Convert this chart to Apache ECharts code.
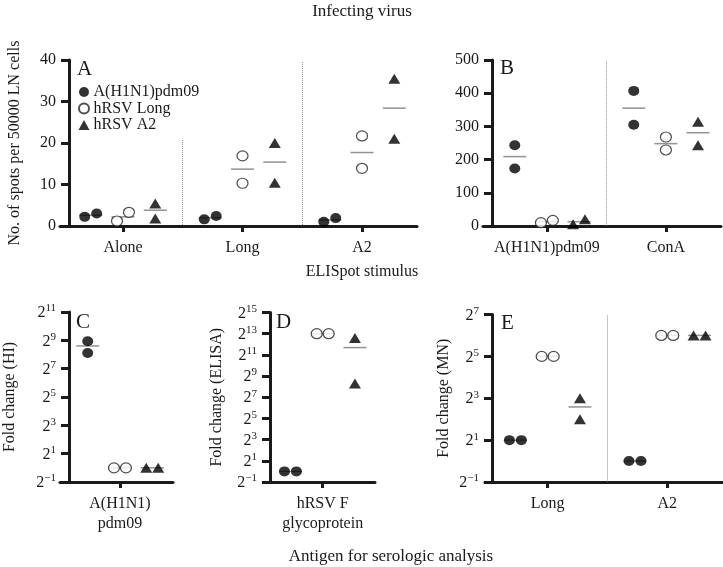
<!DOCTYPE html>
<html><head><meta charset="utf-8">
<script src="https://cdn.jsdelivr.net/npm/echarts@6/dist/echarts.min.js"></script>
<style>html,body{margin:0;padding:0;background:#fff}#c{width:723px;height:567px}</style>
</head><body><div id="c"></div>
<script>
// ---------- DATA ----------
// Panel A: ELISpot, spots per 50000 LN cells
const catA = ['Alone', 'Long', 'A2'];
const h1n1A = [[2.2, 3.0], [1.6, 2.4], [1.0, 1.9]];
const longA = [[1.2, 3.3], [16.9, 10.3], [21.7, 13.9]];
const a2A = [[5.4, 1.8], [20.0, 10.4], [35.5, 21.0]];
const meanH1n1A = [2.6, 2.0, 1.45];
const meanLongA = [2.2, 13.7, 17.7];
const meanA2A = [3.8, 15.4, 28.4];
const ticksA = [0, 10, 20, 30, 40];
// Panel B
const catB = ['A(H1N1)pdm09', 'ConA'];
const h1n1B = [[243, 173], [407, 305]];
const longB = [[10, 17], [268, 229]];
const a2B = [[5, 20], [314, 243]];
const meanH1n1B = [209, 355];
const meanLongB = [13, 248];
const meanA2B = [13, 281];
const ticksB = [0, 100, 200, 300, 400, 500];
// Panel C: fold change (HI)
const catC = ['A(H1N1)\npdm09'];
const h1n1C = [[490, 275]];
const longC = [[1, 1]];
const a2C = [[1, 1]];
const meanH1n1C = [390];
const meanLongC = [1];
const meanA2C = [1];
const ticksC = [0.5, 2, 8, 32, 128, 512, 2048];
// Panel D: fold change (ELISA)
const catD = ['hRSV F\nglycoprotein'];
const h1n1D = [[1, 1]];
const longD = [[8192, 8192]];
const a2D = [[6200, 315]];
const meanH1n1D = [1];
const meanLongD = [8192];
const meanA2D = [3300];
const ticksD = [0.5, 2, 8, 32, 128, 512, 2048, 8192, 32768];
// Panel E: fold change (MN)
const catE = ['Long', 'A2'];
const h1n1E = [[2, 2], [1, 1]];
const longE = [[32, 32], [64, 64]];
const a2E = [[8, 4], [64, 64]];
const meanH1n1E = [2, 1];
const meanLongE = [32, 64];
const meanA2E = [6, 64];
const ticksE = [0.5, 2, 8, 32, 128];

const seriesNames = ['A(H1N1)pdm09', 'hRSV Long', 'hRSV A2'];

// ---------- LAYOUT ----------
const FONT = '"Liberation Serif", "DejaVu Serif", serif';
const INK = '#1a1a1a';
const panels = [
  {cats: catA, groups: [h1n1A, longA, a2A], means: [meanH1n1A, meanLongA, meanA2A], ticks: ticksA, log: false,
   grid: {left: 60, top: 60, width: 357, height: 166}, xr: [-0.527, 2.46], yOff: -9,
   name: 'No. of spots per 50000 LN cells', nameGap: 46, seps: [[0.5, 20.7], [1.5, 39.5]]},
  {cats: catB, groups: [h1n1B, longB, a2B], means: [meanH1n1B, meanLongB, meanA2B], ticks: ticksB, log: false,
   grid: {left: 483, top: 60, width: 238, height: 166}, xr: [-0.537, 1.463], yOff: -9,
   name: '', nameGap: 40, seps: [[0.5, 496]]},
  {cats: catC, groups: [h1n1C, longC, a2C], means: [meanH1n1C, meanLongC, meanA2C], ticks: ticksC, log: true,
   grid: {left: 60, top: 312, width: 113, height: 170}, xr: [-0.502, 0.444], yOff: -9,
   name: 'Fold change (HI)', nameGap: 51, seps: []},
  {cats: catD, groups: [h1n1D, longD, a2D], means: [meanH1n1D, meanLongD, meanA2D], ticks: ticksD, log: true,
   grid: {left: 268, top: 312.5, width: 107, height: 169.5}, xr: [-0.458, 0.438], yOff: -2,
   name: 'Fold change (ELISA)', nameGap: 45, seps: []},
  {cats: catE, groups: [h1n1E, longE, a2E], means: [meanH1n1E, meanLongE, meanA2E], ticks: ticksE, log: true,
   grid: {left: 485, top: 314.5, width: 238, height: 167.5}, xr: [-0.524, 1.466], yOff: -7,
   name: 'Fold change (MN)', nameGap: 40, seps: [[0.5, 124]]}
];
const groupOffsets = [-0.27, 0, 0.27];
const JIT = 0.05;

function supLabel(v) {
  const e = Math.round(Math.log2(v));
  return '{b|2}{s|' + (e < 0 ? '\u2212' + (-e) : e) + '}';
}

function points(vals, off, p) {
  const yMin = p.ticks[0], yMax = p.ticks[p.ticks.length - 1];
  const out = [];
  vals.forEach((pair, i) => {
    const d = p.log
      ? Math.abs(Math.log2(pair[0]) - Math.log2(pair[1])) / (Math.log2(yMax) - Math.log2(yMin))
      : Math.abs(pair[0] - pair[1]) / (yMax - yMin);
    const j = d < 0.06 ? JIT : 0;
    out.push([i + off - j, pair[0]], [i + off + j, pair[1]]);
  });
  return out;
}

const grids = [], xAxes = [], yAxes = [], series = [];
panels.forEach((p, k) => {
  grids.push(p.grid);
  const idx = p.cats.map((c, i) => i);
  xAxes.push({
    gridIndex: k, type: 'value', min: p.xr[0], max: p.xr[1],
    axisLine: {show: true, onZero: false, lineStyle: {color: INK, width: 3}},
    axisTick: {show: true, customValues: idx, length: 6, lineStyle: {color: INK, width: 3}},
    axisLabel: {customValues: idx, formatter: v => p.cats[Math.round(v)], fontSize: 16, lineHeight: 20,
                color: INK, fontFamily: FONT, margin: 12},
    splitLine: {show: false}
  });
  const yMin = p.ticks[0], yMax = p.ticks[p.ticks.length - 1];
  const y = {
    gridIndex: k, type: p.log ? 'log' : 'value', min: yMin, max: yMax, offset: p.yOff,
    axisLine: {show: true, onZero: false, lineStyle: {color: INK, width: 3}},
    axisTick: {show: true, customValues: p.ticks, length: 8, lineStyle: {color: INK, width: 3}},
    axisLabel: {customValues: p.ticks, fontSize: 16, color: INK, fontFamily: FONT, margin: 13},
    splitLine: {show: false},
    name: p.name, nameLocation: 'middle', nameGap: p.nameGap,
    nameTextStyle: {fontSize: 16, color: INK, fontFamily: FONT}
  };
  if (p.log) {
    y.logBase = 2;
    y.axisLabel.formatter = supLabel;
    y.axisLabel.rich = {
      b: {fontSize: 16, fontFamily: FONT, color: INK, lineHeight: 18, verticalAlign: 'bottom'},
      s: {fontSize: 11, fontFamily: FONT, color: INK, lineHeight: 18, verticalAlign: 'top', padding: [0, 0, 6, 0]}
    };
  }
  yAxes.push(y);

  const styles = [
    {symbol: 'circle', symbolSize: [11, 10], itemStyle: {color: '#000'}},
    {symbol: 'circle', symbolSize: [11, 10], itemStyle: {color: '#fff', borderColor: '#222', borderWidth: 1.2}},
    {symbol: 'triangle', symbolSize: [12, 10], itemStyle: {color: '#000'}}
  ];
  // mean lines
  const meanData = [];
  p.means.forEach((m, g) => m.forEach((v, i) => meanData.push([i + groupOffsets[g], v])));
  const meanSeries = {
    type: 'scatter', xAxisIndex: k, yAxisIndex: k, z: 1, silent: true,
    symbol: 'rect', symbolSize: [23, 1.5], itemStyle: {color: '#777'},
    data: meanData
  };
  if (p.seps.length) {
    meanSeries.markLine = {
      silent: true, symbol: ['none', 'none'], label: {show: false},
      lineStyle: {type: 'dotted', color: '#8a8a8a', width: 1},
      data: p.seps.map(s => [{coord: [s[0], s[1]]}, {coord: [s[0], yMin]}])
    };
  }
  series.push(meanSeries);
  p.groups.forEach((vals, g) => {
    series.push(Object.assign({
      type: 'scatter', name: seriesNames[g], xAxisIndex: k, yAxisIndex: k, z: 3,
      data: points(vals, groupOffsets[g], p)
    }, styles[g]));
  });
});

const txt = (text, x, y, size, align) => ({
  type: 'text', x: x, y: y, silent: true,
  style: {text: text, fill: INK, fontSize: size, fontFamily: FONT, align: align || 'center', verticalAlign: 'middle'}
});

const chart = echarts.init(document.getElementById('c'), null, {renderer: 'canvas'});
chart.setOption({
  animation: false,
  backgroundColor: '#fff',
  grid: grids, xAxis: xAxes, yAxis: yAxes, series: series,
  legend: {
    data: seriesNames, orient: 'vertical', left: 78, top: 84, padding: 0,
    itemWidth: 11, itemHeight: 10, itemGap: 0.5, selectedMode: false,
    textStyle: {fontSize: 16, color: INK, fontFamily: FONT, lineHeight: 16, padding: [0, 0, 0, -1]}
  },
  graphic: [
    txt('Infecting virus', 362, 12, 17),
    txt('ELISpot stimulus', 362, 272, 16),
    txt('Antigen for serologic analysis', 391, 557, 17),
    txt('A', 77, 69, 21, 'left'),
    txt('B', 500, 68, 21, 'left'),
    txt('C', 76, 322, 21, 'left'),
    txt('D', 276, 322, 21, 'left'),
    txt('E', 501, 323, 21, 'left')
  ]
});
</script>
</body></html>
